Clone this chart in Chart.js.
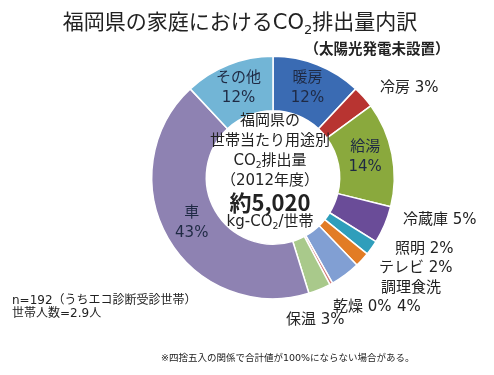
<!DOCTYPE html>
<html>
<head>
<meta charset="utf-8">
<script src="https://cdn.jsdelivr.net/npm/chart.js@4"></script>
<style>
  html, body { margin: 0; padding: 0; background: #fff; }
  #wrap { width: 494px; height: 375px; position: relative; }
</style>
</head>
<body>
<div id="wrap"><canvas id="co2"></canvas></div>
<script>
// data
const categories = ["暖房", "冷房", "給湯", "冷蔵庫", "照明", "テレビ", "調理食洗", "乾燥", "保温", "車", "その他"];
const shares = [12, 3, 14, 5, 2, 2, 4, 0.4, 3, 43, 12];
const colors = ["#3a6bb3", "#b83431", "#8aa93d", "#6a4c98", "#2f9ebb", "#e27c25", "#819fd3", "#d27b7b", "#a9c98b", "#8e82b2", "#72b5d6"];
const insideLabels = ["暖房", "給湯", "車", "その他"];

const FONT = "'DejaVu Sans', 'Noto Sans CJK JP', sans-serif";
const BOLD_FONT = "'Noto Sans CJK JP', sans-serif";
const pct = (name) => Math.round(shares[categories.indexOf(name)]) + "%";

// text outside the ring (positions only, text comes from the data)
const outerLabels = [
    { parts: [{ t: "冷房 " + pct("冷房") }], x: 380, y: 88 },
    { parts: [{ t: "冷蔵庫 " + pct("冷蔵庫") }], x: 403, y: 220 },
    { parts: [{ t: "照明 " + pct("照明") }], x: 395, y: 249 },
    { parts: [{ t: "テレビ " + pct("テレビ") }], x: 379, y: 268 },
    { parts: [{ t: "調理食洗" }], x: 381, y: 288 },
    { parts: [{ t: "乾燥 " + pct("乾燥") }], x: 333, y: 307 },
    { parts: [{ t: pct("調理食洗") }], x: 397, y: 307 },
    { parts: [{ t: "保温 " + pct("保温") }], x: 286, y: 320 },
];

function drawRich(ctx, parts, x, y, size, align, weight) {
    const f = (s) => (weight ? weight + " " + s + "px " + BOLD_FONT : "normal " + s + "px " + FONT);
    let w = 0;
    parts.forEach(p => {
        ctx.font = f(p.sub ? size * 0.62 : size);
        p.w = ctx.measureText(p.t).width;
        w += p.w;
    });
    let cx = align === "center" ? x - w / 2 : (align === "right" ? x - w : x);
    ctx.textAlign = "left";
    ctx.textBaseline = "middle";
    parts.forEach(p => {
        ctx.font = f(p.sub ? size * 0.62 : size);
        ctx.fillText(p.t, cx, p.sub ? y + size * 0.3 : y);
        cx += p.w;
    });
}

const textPlugin = {
    id: "texts",
    afterDraw(chart) {
        const ctx = chart.ctx;
        ctx.save();
        ctx.fillStyle = "#222";

        // title
        drawRich(ctx, [{ t: "福岡県の家庭におけるCO" }, { t: "2", sub: true }, { t: "排出量内訳" }], 240, 24, 21, "center");
        drawRich(ctx, [{ t: "（太陽光発電未設置）" }], 377, 48, 14.5, "center", "bold");

        // centre of the ring
        const arc0 = chart.getDatasetMeta(0).data[0];
        const cx = arc0.x - 3, cy = arc0.y;
        drawRich(ctx, [{ t: "福岡県の" }], cx, cy - 56, 15, "center");
        drawRich(ctx, [{ t: "世帯当たり用途別" }], cx, cy - 36, 15, "center");
        drawRich(ctx, [{ t: "CO" }, { t: "2", sub: true }, { t: "排出量" }], cx, cy - 16, 15, "center");
        drawRich(ctx, [{ t: "（2012年度）" }], cx, cy + 4, 15, "center");
        drawRich(ctx, [{ t: "約5,020" }], cx, cy + 25, 22, "center", "bold");
        drawRich(ctx, [{ t: "kg-CO" }, { t: "2", sub: true }, { t: "/世帯" }], cx, cy + 45, 15, "center");

        // labels inside the ring
        const meta = chart.getDatasetMeta(0);
        insideLabels.forEach(name => {
            const i = categories.indexOf(name);
            const p = meta.data[i].tooltipPosition();
            ctx.fillStyle = "#1f2a44";
            drawRich(ctx, [{ t: name }], p.x, p.y - 12, 15, "center");
            drawRich(ctx, [{ t: pct(name) }], p.x, p.y + 8, 15, "center");
        });

        ctx.fillStyle = "#222";
        outerLabels.forEach(l => drawRich(ctx, l.parts, l.x, l.y, 15, "left"));

        // notes
        drawRich(ctx, [{ t: "n=192（うちエコ診断受診世帯）" }], 12, 301, 12, "left");
        drawRich(ctx, [{ t: "世帯人数=2.9人" }], 12, 314, 12, "left");
        drawRich(ctx, [{ t: "※四捨五入の関係で合計値が100%にならない場合がある。" }], 161, 359, 9.5, "left");
        ctx.restore();
    }
};

const canvas = document.getElementById("co2");
const co2Chart = new Chart(canvas, {
    type: "doughnut",
    data: {
        labels: categories,
        datasets: [{
            data: shares,
            backgroundColor: colors,
            borderColor: "#ffffff",
            borderWidth: 1.5,
        }],
    },
    options: {
        responsive: true,
        maintainAspectRatio: false,
        animation: false,
        cutout: "55%",
        layout: { padding: { left: 151, right: 99, top: 55, bottom: 75 } },
        plugins: {
            legend: { display: false },
            tooltip: { enabled: false },
        },
    },
    plugins: [textPlugin],
});
</script>
</body>
</html>
